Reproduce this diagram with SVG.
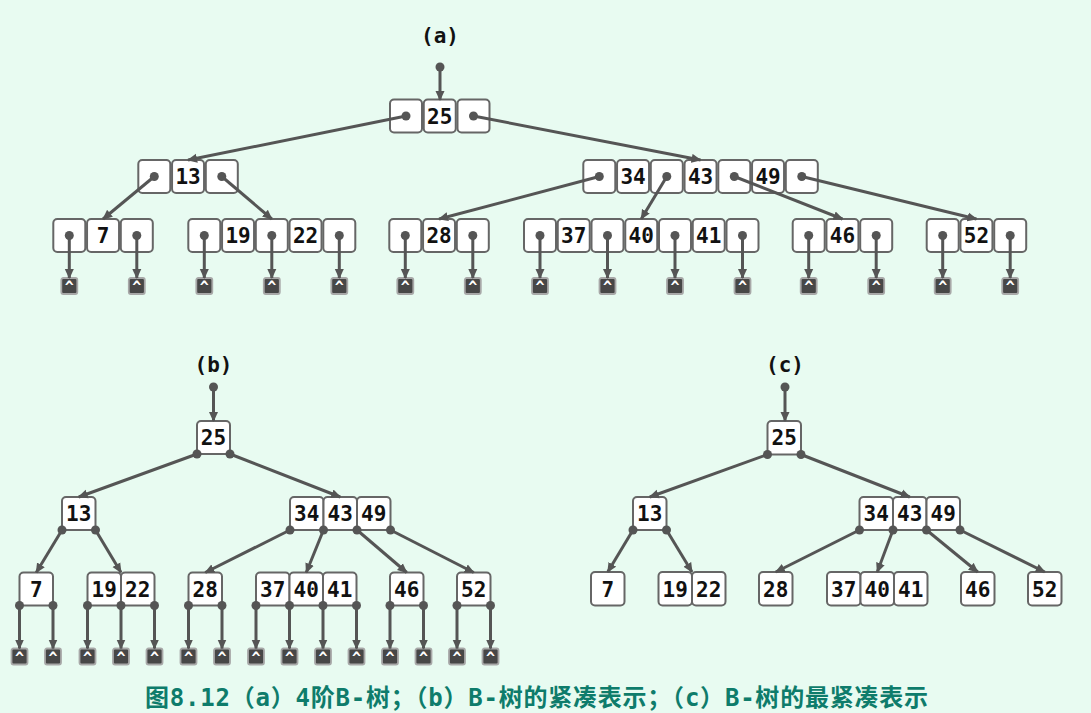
<svg xmlns="http://www.w3.org/2000/svg" width="1091" height="713" viewBox="0 0 1091 713">
<defs>
<style>
.cell{fill:#fff;stroke:#666;stroke-width:2}
.k{font-family:"DejaVu Sans Mono","Liberation Mono",monospace;font-weight:bold;font-size:21px;fill:#111;text-anchor:middle}
.lbl{font-family:"DejaVu Sans Mono","Liberation Mono",monospace;font-weight:bold;font-size:21px;fill:#111;text-anchor:middle}
.e{stroke:#555;stroke-width:3;fill:none;marker-end:url(#ah)}
.d{fill:#555}
.nb{fill:#474747;stroke:#a8a8a8;stroke-width:1.8}
.nt{font-family:"DejaVu Sans Mono","Liberation Mono",monospace;font-weight:bold;font-size:15px;fill:#fff;text-anchor:middle}
.cap{font-family:"DejaVu Sans Mono","Noto Sans CJK SC",monospace;font-weight:bold;font-size:24px;fill:#0e7c6b}
</style>
<marker id="ah" viewBox="0 0 10 10" refX="9" refY="5" markerWidth="10" markerHeight="10" markerUnits="userSpaceOnUse" orient="auto"><path d="M0,0.5 L10,5 L0,9.5 z" fill="#555"/></marker>
<g id="nul"><rect class="nb" x="-8" y="0" width="16" height="16" rx="2"/><text class="nt" x="0" y="14">^</text></g>
</defs>
<rect width="1091" height="713" fill="#e8fbf1"/>

<!-- ========== (a) ========== -->
<text class="lbl" x="440" y="43">(a)</text>
<g id="a-root">
<rect class="cell" x="390" y="99.5" width="32" height="33" rx="4"/>
<rect class="cell" x="423.75" y="99.5" width="32" height="33" rx="4"/>
<rect class="cell" x="457.5" y="99.5" width="32" height="33" rx="4"/>
<text class="k" x="439.75" y="123.5">25</text>
</g>
<g id="a-n13">
<rect class="cell" x="138.3" y="160" width="32" height="33" rx="4"/>
<rect class="cell" x="172.05" y="160" width="32" height="33" rx="4"/>
<rect class="cell" x="205.8" y="160" width="32" height="33" rx="4"/>
<text class="k" x="188.05" y="184">13</text>
</g>
<g id="a-n34">
<rect class="cell" x="583.3" y="160" width="32" height="33" rx="4"/>
<rect class="cell" x="617.05" y="160" width="32" height="33" rx="4"/>
<rect class="cell" x="650.8" y="160" width="32" height="33" rx="4"/>
<rect class="cell" x="684.55" y="160" width="32" height="33" rx="4"/>
<rect class="cell" x="718.3" y="160" width="32" height="33" rx="4"/>
<rect class="cell" x="752.05" y="160" width="32" height="33" rx="4"/>
<rect class="cell" x="785.8" y="160" width="32" height="33" rx="4"/>
<text class="k" x="633.05" y="184">34</text>
<text class="k" x="700.55" y="184">43</text>
<text class="k" x="768.05" y="184">49</text>
</g>
<g id="a-n7">
<rect class="cell" x="53.3" y="219" width="32" height="33" rx="4"/>
<rect class="cell" x="87.05" y="219" width="32" height="33" rx="4"/>
<rect class="cell" x="120.8" y="219" width="32" height="33" rx="4"/>
<text class="k" x="103.05" y="243">7</text>
</g>
<g id="a-n19">
<rect class="cell" x="188.3" y="219" width="32" height="33" rx="4"/>
<rect class="cell" x="222.05" y="219" width="32" height="33" rx="4"/>
<rect class="cell" x="255.8" y="219" width="32" height="33" rx="4"/>
<rect class="cell" x="289.55" y="219" width="32" height="33" rx="4"/>
<rect class="cell" x="323.3" y="219" width="32" height="33" rx="4"/>
<text class="k" x="238.05" y="243">19</text>
<text class="k" x="305.55" y="243">22</text>
</g>
<g id="a-n28">
<rect class="cell" x="389.3" y="219" width="32" height="33" rx="4"/>
<rect class="cell" x="423.05" y="219" width="32" height="33" rx="4"/>
<rect class="cell" x="456.8" y="219" width="32" height="33" rx="4"/>
<text class="k" x="439.05" y="243">28</text>
</g>
<g id="a-n37">
<rect class="cell" x="524" y="219" width="32" height="33" rx="4"/>
<rect class="cell" x="557.75" y="219" width="32" height="33" rx="4"/>
<rect class="cell" x="591.5" y="219" width="32" height="33" rx="4"/>
<rect class="cell" x="625.25" y="219" width="32" height="33" rx="4"/>
<rect class="cell" x="659" y="219" width="32" height="33" rx="4"/>
<rect class="cell" x="692.75" y="219" width="32" height="33" rx="4"/>
<rect class="cell" x="726.5" y="219" width="32" height="33" rx="4"/>
<text class="k" x="573.75" y="243">37</text>
<text class="k" x="641.25" y="243">40</text>
<text class="k" x="708.75" y="243">41</text>
</g>
<g id="a-n46">
<rect class="cell" x="792.7" y="219" width="32" height="33" rx="4"/>
<rect class="cell" x="826.45" y="219" width="32" height="33" rx="4"/>
<rect class="cell" x="860.2" y="219" width="32" height="33" rx="4"/>
<text class="k" x="842.45" y="243">46</text>
</g>
<g id="a-n52">
<rect class="cell" x="926.7" y="219" width="32" height="33" rx="4"/>
<rect class="cell" x="960.45" y="219" width="32" height="33" rx="4"/>
<rect class="cell" x="994.2" y="219" width="32" height="33" rx="4"/>
<text class="k" x="976.45" y="243">52</text>
</g>
<g id="a-nulls">
<use href="#nul" x="69.3" y="278"/><use href="#nul" x="136.8" y="278"/>
<use href="#nul" x="204.3" y="278"/><use href="#nul" x="271.8" y="278"/><use href="#nul" x="339.3" y="278"/>
<use href="#nul" x="405.3" y="278"/><use href="#nul" x="472.8" y="278"/>
<use href="#nul" x="540" y="278"/><use href="#nul" x="607.5" y="278"/><use href="#nul" x="675" y="278"/><use href="#nul" x="742.5" y="278"/>
<use href="#nul" x="808.7" y="278"/><use href="#nul" x="876.2" y="278"/>
<use href="#nul" x="942.7" y="278"/><use href="#nul" x="1010.2" y="278"/>
</g>
<g id="a-edges">
<line class="e" x1="440" y1="67" x2="440" y2="100"/>
<line class="e" x1="406" y1="116" x2="188.05" y2="160"/>
<line class="e" x1="473.5" y1="116" x2="700.55" y2="160"/>
<line class="e" x1="154.3" y1="176.5" x2="103.05" y2="219"/>
<line class="e" x1="221.8" y1="176.5" x2="271.8" y2="219"/>
<line class="e" x1="599.3" y1="176.5" x2="439.05" y2="219"/>
<line class="e" x1="666.8" y1="176.5" x2="641.25" y2="219"/>
<line class="e" x1="734.3" y1="176.5" x2="842.45" y2="219"/>
<line class="e" x1="801.8" y1="176.5" x2="976.45" y2="219"/>
<line class="e" x1="69.3" y1="235.5" x2="69.3" y2="278"/>
<line class="e" x1="136.8" y1="235.5" x2="136.8" y2="278"/>
<line class="e" x1="204.3" y1="235.5" x2="204.3" y2="278"/>
<line class="e" x1="271.8" y1="235.5" x2="271.8" y2="278"/>
<line class="e" x1="339.3" y1="235.5" x2="339.3" y2="278"/>
<line class="e" x1="405.3" y1="235.5" x2="405.3" y2="278"/>
<line class="e" x1="472.8" y1="235.5" x2="472.8" y2="278"/>
<line class="e" x1="540" y1="235.5" x2="540" y2="278"/>
<line class="e" x1="607.5" y1="235.5" x2="607.5" y2="278"/>
<line class="e" x1="675" y1="235.5" x2="675" y2="278"/>
<line class="e" x1="742.5" y1="235.5" x2="742.5" y2="278"/>
<line class="e" x1="808.7" y1="235.5" x2="808.7" y2="278"/>
<line class="e" x1="876.2" y1="235.5" x2="876.2" y2="278"/>
<line class="e" x1="942.7" y1="235.5" x2="942.7" y2="278"/>
<line class="e" x1="1010.2" y1="235.5" x2="1010.2" y2="278"/>
<circle class="d" cx="440" cy="67" r="4.5"/>
<circle class="d" cx="406" cy="116" r="4.5"/><circle class="d" cx="473.5" cy="116" r="4.5"/>
<circle class="d" cx="154.3" cy="176.5" r="4.5"/><circle class="d" cx="221.8" cy="176.5" r="4.5"/>
<circle class="d" cx="599.3" cy="176.5" r="4.5"/><circle class="d" cx="666.8" cy="176.5" r="4.5"/><circle class="d" cx="734.3" cy="176.5" r="4.5"/><circle class="d" cx="801.8" cy="176.5" r="4.5"/>
<circle class="d" cx="69.3" cy="235.5" r="4.5"/><circle class="d" cx="136.8" cy="235.5" r="4.5"/>
<circle class="d" cx="204.3" cy="235.5" r="4.5"/><circle class="d" cx="271.8" cy="235.5" r="4.5"/><circle class="d" cx="339.3" cy="235.5" r="4.5"/>
<circle class="d" cx="405.3" cy="235.5" r="4.5"/><circle class="d" cx="472.8" cy="235.5" r="4.5"/>
<circle class="d" cx="540" cy="235.5" r="4.5"/><circle class="d" cx="607.5" cy="235.5" r="4.5"/><circle class="d" cx="675" cy="235.5" r="4.5"/><circle class="d" cx="742.5" cy="235.5" r="4.5"/>
<circle class="d" cx="808.7" cy="235.5" r="4.5"/><circle class="d" cx="876.2" cy="235.5" r="4.5"/>
<circle class="d" cx="942.7" cy="235.5" r="4.5"/><circle class="d" cx="1010.2" cy="235.5" r="4.5"/>
</g>

<!-- ========== (b) ========== -->
<text class="lbl" x="213.5" y="372">(b)</text>
<g id="b-root">
<rect class="cell" x="197" y="421" width="33" height="33" rx="4"/>
<text class="k" x="213.5" y="445">25</text>
</g>
<g id="b-n13">
<rect class="cell" x="62" y="497" width="33.5" height="33" rx="4"/>
<text class="k" x="78.75" y="521">13</text>
</g>
<g id="b-n34">
<rect class="cell" x="290" y="497" width="33.5" height="33" rx="4"/>
<rect class="cell" x="323.5" y="497" width="33.5" height="33" rx="4"/>
<rect class="cell" x="357" y="497" width="33.5" height="33" rx="4"/>
<text class="k" x="306.75" y="521">34</text>
<text class="k" x="340.25" y="521">43</text>
<text class="k" x="373.75" y="521">49</text>
</g>
<g id="b-n7">
<rect class="cell" x="19.5" y="572.5" width="33.5" height="33" rx="4"/>
<text class="k" x="36.25" y="596.5">7</text>
</g>
<g id="b-n19">
<rect class="cell" x="87.5" y="572.5" width="33.5" height="33" rx="4"/>
<rect class="cell" x="121" y="572.5" width="33.5" height="33" rx="4"/>
<text class="k" x="104.25" y="596.5">19</text>
<text class="k" x="137.75" y="596.5">22</text>
</g>
<g id="b-n28">
<rect class="cell" x="188.5" y="572.5" width="33.5" height="33" rx="4"/>
<text class="k" x="205.25" y="596.5">28</text>
</g>
<g id="b-n37">
<rect class="cell" x="256" y="572.5" width="33.5" height="33" rx="4"/>
<rect class="cell" x="289.5" y="572.5" width="33.5" height="33" rx="4"/>
<rect class="cell" x="323" y="572.5" width="33.5" height="33" rx="4"/>
<text class="k" x="272.75" y="596.5">37</text>
<text class="k" x="306.25" y="596.5">40</text>
<text class="k" x="339.75" y="596.5">41</text>
</g>
<g id="b-n46">
<rect class="cell" x="390" y="572.5" width="33.5" height="33" rx="4"/>
<text class="k" x="406.75" y="596.5">46</text>
</g>
<g id="b-n52">
<rect class="cell" x="457" y="572.5" width="33.5" height="33" rx="4"/>
<text class="k" x="473.75" y="596.5">52</text>
</g>
<g id="b-nulls">
<use href="#nul" x="19.5" y="648.5"/><use href="#nul" x="53" y="648.5"/>
<use href="#nul" x="87.5" y="648.5"/><use href="#nul" x="121" y="648.5"/><use href="#nul" x="154.5" y="648.5"/>
<use href="#nul" x="188.5" y="648.5"/><use href="#nul" x="222" y="648.5"/>
<use href="#nul" x="256" y="648.5"/><use href="#nul" x="289.5" y="648.5"/><use href="#nul" x="323" y="648.5"/><use href="#nul" x="356.5" y="648.5"/>
<use href="#nul" x="390" y="648.5"/><use href="#nul" x="423.5" y="648.5"/>
<use href="#nul" x="457" y="648.5"/><use href="#nul" x="490.5" y="648.5"/>
</g>
<g id="b-edges">
<line class="e" x1="213.5" y1="387" x2="213.5" y2="421"/>
<line class="e" x1="197" y1="454" x2="78.75" y2="497"/>
<line class="e" x1="230" y1="454" x2="340.25" y2="497"/>
<line class="e" x1="62" y1="530" x2="36.25" y2="572.5"/>
<line class="e" x1="95.5" y1="530" x2="121" y2="572.5"/>
<line class="e" x1="290" y1="530" x2="205.25" y2="572.5"/>
<line class="e" x1="323.5" y1="530" x2="306.25" y2="572.5"/>
<line class="e" x1="357" y1="530" x2="406.75" y2="572.5"/>
<line class="e" x1="390.5" y1="530" x2="473.75" y2="572.5"/>
<line class="e" x1="19.5" y1="605.5" x2="19.5" y2="648.5"/>
<line class="e" x1="53" y1="605.5" x2="53" y2="648.5"/>
<line class="e" x1="87.5" y1="605.5" x2="87.5" y2="648.5"/>
<line class="e" x1="121" y1="605.5" x2="121" y2="648.5"/>
<line class="e" x1="154.5" y1="605.5" x2="154.5" y2="648.5"/>
<line class="e" x1="188.5" y1="605.5" x2="188.5" y2="648.5"/>
<line class="e" x1="222" y1="605.5" x2="222" y2="648.5"/>
<line class="e" x1="256" y1="605.5" x2="256" y2="648.5"/>
<line class="e" x1="289.5" y1="605.5" x2="289.5" y2="648.5"/>
<line class="e" x1="323" y1="605.5" x2="323" y2="648.5"/>
<line class="e" x1="356.5" y1="605.5" x2="356.5" y2="648.5"/>
<line class="e" x1="390" y1="605.5" x2="390" y2="648.5"/>
<line class="e" x1="423.5" y1="605.5" x2="423.5" y2="648.5"/>
<line class="e" x1="457" y1="605.5" x2="457" y2="648.5"/>
<line class="e" x1="490.5" y1="605.5" x2="490.5" y2="648.5"/>
<circle class="d" cx="213.5" cy="387" r="4.5"/>
<circle class="d" cx="197" cy="454" r="4.5"/><circle class="d" cx="230" cy="454" r="4.5"/>
<circle class="d" cx="62" cy="530" r="4.5"/><circle class="d" cx="95.5" cy="530" r="4.5"/>
<circle class="d" cx="290" cy="530" r="4.5"/><circle class="d" cx="323.5" cy="530" r="4.5"/><circle class="d" cx="357" cy="530" r="4.5"/><circle class="d" cx="390.5" cy="530" r="4.5"/>
<circle class="d" cx="19.5" cy="605.5" r="4.5"/><circle class="d" cx="53" cy="605.5" r="4.5"/>
<circle class="d" cx="87.5" cy="605.5" r="4.5"/><circle class="d" cx="121" cy="605.5" r="4.5"/><circle class="d" cx="154.5" cy="605.5" r="4.5"/>
<circle class="d" cx="188.5" cy="605.5" r="4.5"/><circle class="d" cx="222" cy="605.5" r="4.5"/>
<circle class="d" cx="256" cy="605.5" r="4.5"/><circle class="d" cx="289.5" cy="605.5" r="4.5"/><circle class="d" cx="323" cy="605.5" r="4.5"/><circle class="d" cx="356.5" cy="605.5" r="4.5"/>
<circle class="d" cx="390" cy="605.5" r="4.5"/><circle class="d" cx="423.5" cy="605.5" r="4.5"/>
<circle class="d" cx="457" cy="605.5" r="4.5"/><circle class="d" cx="490.5" cy="605.5" r="4.5"/>
</g>

<!-- ========== (c) ========== -->
<text class="lbl" x="785" y="372">(c)</text>
<g id="c-root">
<rect class="cell" x="767.5" y="421" width="33.5" height="33.5" rx="4"/>
<text class="k" x="784.25" y="445">25</text>
</g>
<g id="c-n13">
<rect class="cell" x="633" y="497" width="33.5" height="33" rx="4"/>
<text class="k" x="649.75" y="521">13</text>
</g>
<g id="c-n34">
<rect class="cell" x="859.5" y="497" width="33.5" height="33" rx="4"/>
<rect class="cell" x="893" y="497" width="33.5" height="33" rx="4"/>
<rect class="cell" x="926.5" y="497" width="33.5" height="33" rx="4"/>
<text class="k" x="876.25" y="521">34</text>
<text class="k" x="909.75" y="521">43</text>
<text class="k" x="943.25" y="521">49</text>
</g>
<g id="c-n7">
<rect class="cell" x="591" y="572" width="33.5" height="33.5" rx="4"/>
<text class="k" x="607.75" y="596.5">7</text>
</g>
<g id="c-n19">
<rect class="cell" x="658.5" y="572" width="33.5" height="33.5" rx="4"/>
<rect class="cell" x="692" y="572" width="33.5" height="33.5" rx="4"/>
<text class="k" x="675.25" y="596.5">19</text>
<text class="k" x="708.75" y="596.5">22</text>
</g>
<g id="c-n28">
<rect class="cell" x="759" y="572" width="33.5" height="33.5" rx="4"/>
<text class="k" x="775.75" y="596.5">28</text>
</g>
<g id="c-n37">
<rect class="cell" x="827" y="572" width="33.5" height="33.5" rx="4"/>
<rect class="cell" x="860.5" y="572" width="33.5" height="33.5" rx="4"/>
<rect class="cell" x="894" y="572" width="33.5" height="33.5" rx="4"/>
<text class="k" x="843.75" y="596.5">37</text>
<text class="k" x="877.25" y="596.5">40</text>
<text class="k" x="910.75" y="596.5">41</text>
</g>
<g id="c-n46">
<rect class="cell" x="961" y="572" width="33.5" height="33.5" rx="4"/>
<text class="k" x="977.75" y="596.5">46</text>
</g>
<g id="c-n52">
<rect class="cell" x="1028" y="572" width="33.5" height="33.5" rx="4"/>
<text class="k" x="1044.75" y="596.5">52</text>
</g>
<g id="c-edges">
<line class="e" x1="785" y1="387" x2="785" y2="421"/>
<line class="e" x1="767.5" y1="454.5" x2="649.75" y2="497"/>
<line class="e" x1="801" y1="454.5" x2="909.75" y2="497"/>
<line class="e" x1="633" y1="530" x2="607.75" y2="572"/>
<line class="e" x1="666.5" y1="530" x2="692" y2="572"/>
<line class="e" x1="859.5" y1="530" x2="775.75" y2="572"/>
<line class="e" x1="893" y1="530" x2="877.25" y2="572"/>
<line class="e" x1="926.5" y1="530" x2="977.75" y2="572"/>
<line class="e" x1="960" y1="530" x2="1044.75" y2="572"/>
<circle class="d" cx="785" cy="387" r="4.5"/>
<circle class="d" cx="767.5" cy="454.5" r="4.5"/><circle class="d" cx="801" cy="454.5" r="4.5"/>
<circle class="d" cx="633" cy="530" r="4.5"/><circle class="d" cx="666.5" cy="530" r="4.5"/>
<circle class="d" cx="859.5" cy="530" r="4.5"/><circle class="d" cx="893" cy="530" r="4.5"/><circle class="d" cx="926.5" cy="530" r="4.5"/><circle class="d" cx="960" cy="530" r="4.5"/>
</g>

<text class="cap" x="145" y="706" textLength="783" lengthAdjust="spacing">图8.12（a）4阶B-树；（b）B-树的紧凑表示；（c）B-树的最紧凑表示</text>
</svg>
